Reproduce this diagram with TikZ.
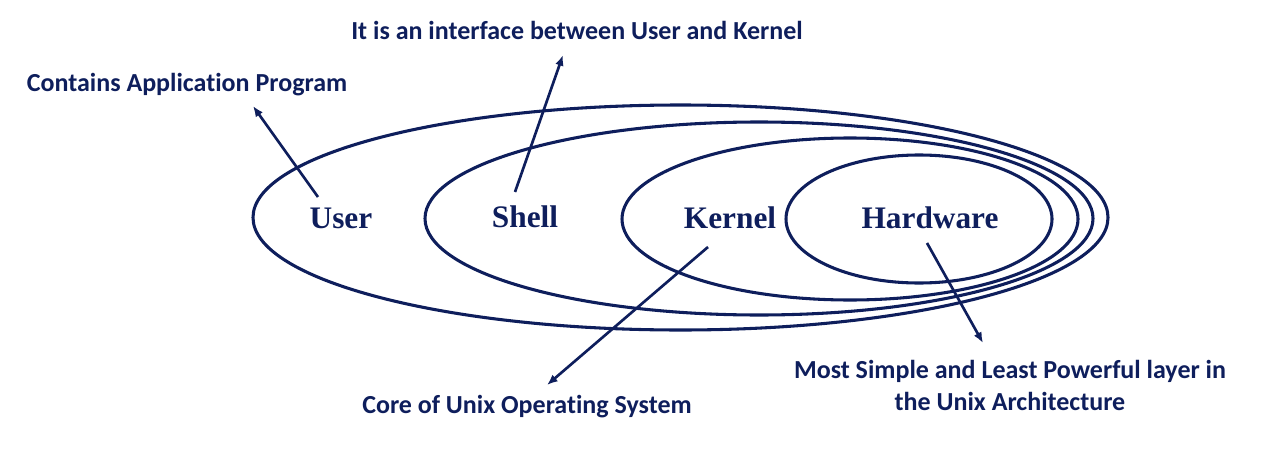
\documentclass[tikz,border=0pt]{standalone}
\usepackage{fontspec}
\setmainfont{Liberation Serif}
\newfontfamily\notefont[Ligatures=NoCommon]{Carlito}
\usetikzlibrary{shapes.geometric,arrows.meta}
\definecolor{navy}{RGB}{14,30,92}
\tikzset{
  layer/.style={draw=navy, line width=2.3pt, ellipse, inner sep=0pt},
  lyrtext/.style={text=navy, font=\fontsize{23.5pt}{28pt}\selectfont\bfseries, inner sep=0pt},
  note/.style={text=navy, font=\notefont\fontsize{19.5pt}{24pt}\selectfont\bfseries, inner sep=0pt, align=center},
  pointer/.style={draw=navy, line width=2pt, -{Latex[length=8pt,width=6.5pt]}},
}
\begin{document}
\begin{tikzpicture}[x=0.75pt,y=-0.75pt]
\useasboundingbox (0,0) rectangle (1280,467);
% layers
\node[layer, minimum width=641.25pt, minimum height=168.75pt] (userE) at (680.5,217.5) {};
\node[layer, minimum width=501pt, minimum height=144.75pt] (shellE) at (759,218.5) {};
\node[layer, minimum width=342pt, minimum height=121.5pt] (kernelE) at (850,219) {};
\node[layer, minimum width=199.5pt, minimum height=96pt] (hwE) at (919,219) {};
% layer names
\node[lyrtext] (user) at (341,218) {User};
\node[lyrtext] (shell) at (525,217) {Shell};
\node[lyrtext] (kernel) at (730,218) {Kernel};
\node[lyrtext] (hw) at (930,218) {Hardware};
% notes
\node[note] (n1) at (187,85) {Contains Application Program};
\node[note] (n2) at (577,30) {It is an interface between User and Kernel};
\node[note] (n3) at (527,407) {Core of Unix Operating System};
\node[note] (n4) at (1010,385) {Most Simple and Least Powerful layer in\\the Unix Architecture};
% arrow ends
\coordinate (a1s) at (318,197); \coordinate (a1e) at (253,106);
\coordinate (a2s) at (515,192); \coordinate (a2e) at (563,55);
\coordinate (a3s) at (708,247); \coordinate (a3e) at (547,385);
\coordinate (a4s) at (927,243); \coordinate (a4e) at (983,343);
\draw[pointer] (a1s) -- (a1e);
\draw[pointer] (a2s) -- (a2e);
\draw[pointer] (a3s) -- (a3e);
\draw[pointer] (a4s) -- (a4e);
\end{tikzpicture}
\end{document}
